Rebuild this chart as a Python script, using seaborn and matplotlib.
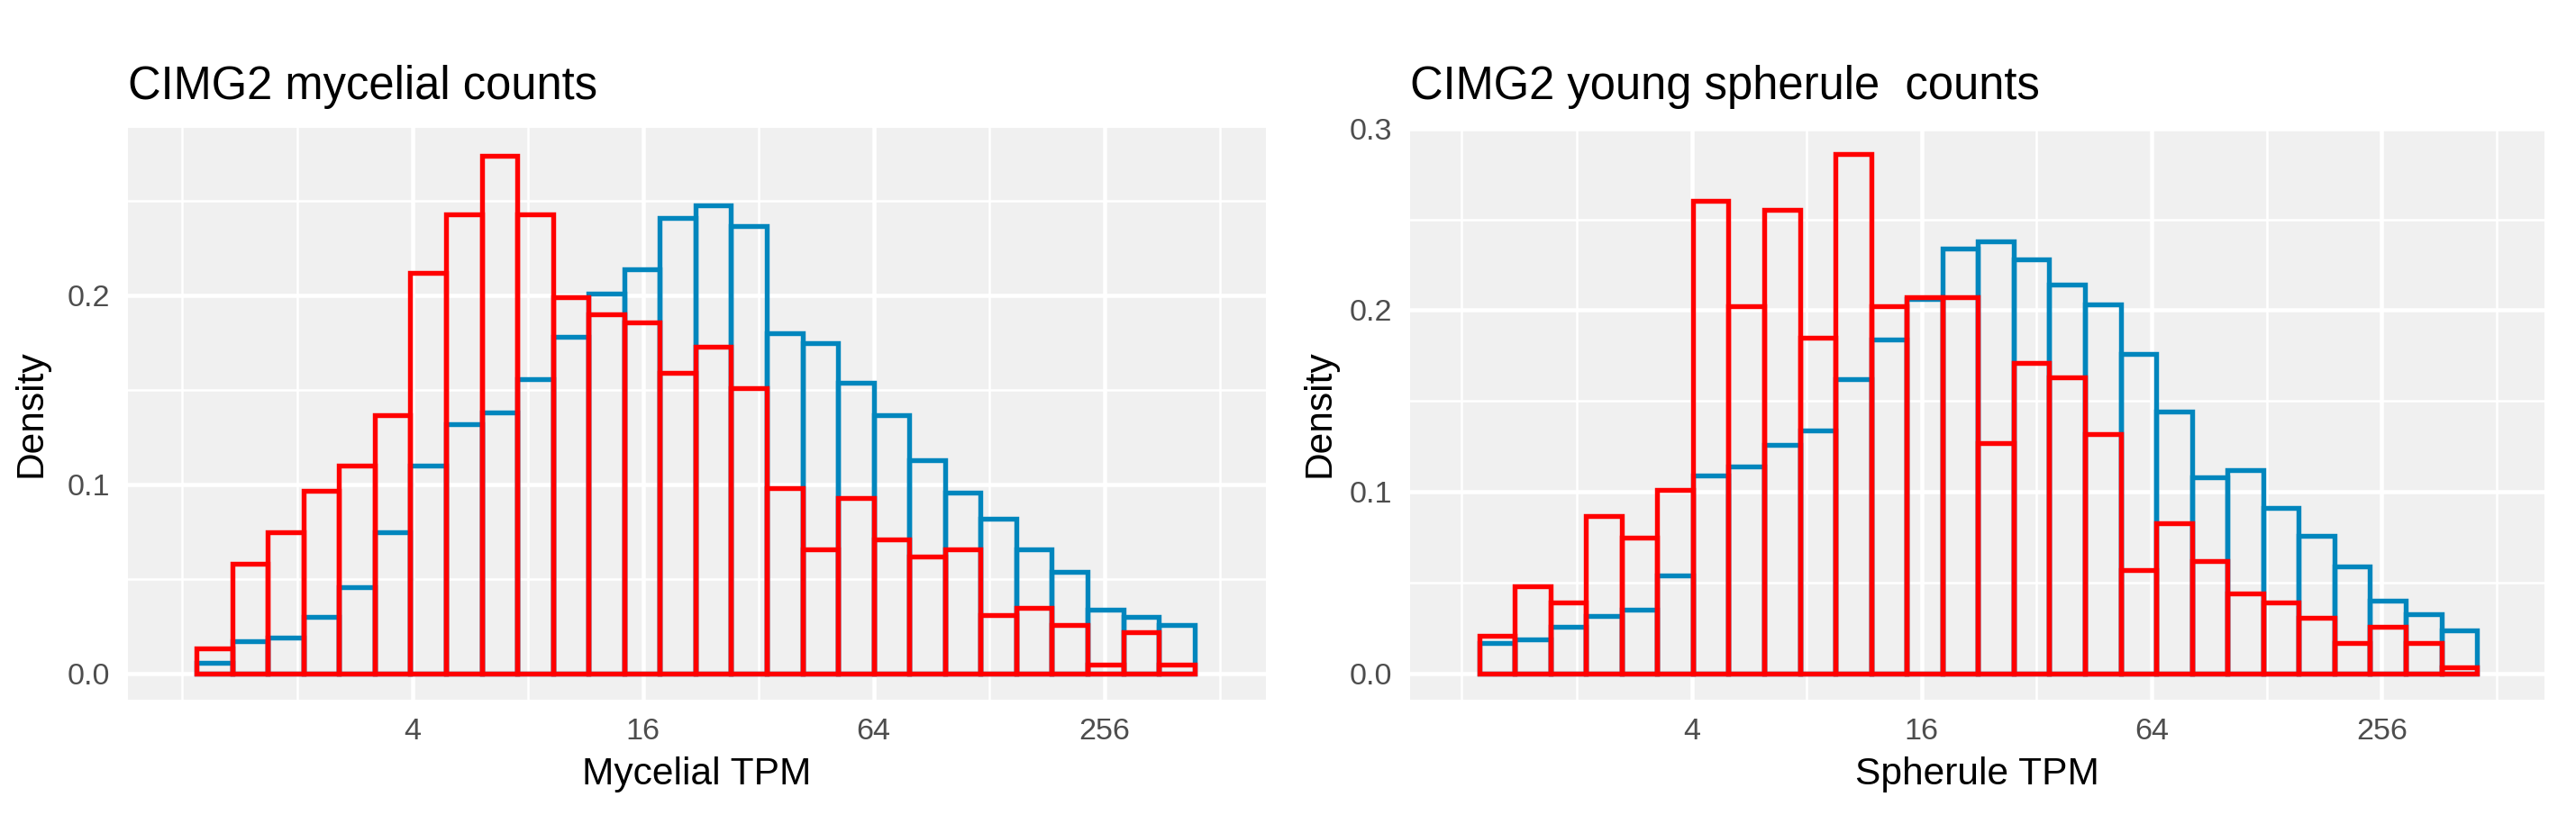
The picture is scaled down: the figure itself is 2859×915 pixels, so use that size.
import numpy as np
import pandas as pd
import matplotlib
matplotlib.use("Agg")
import matplotlib.pyplot as plt
import seaborn as sns

# bin range on the log2(TPM) axis, 28 bins in each panel
n_bins = 28
myc_bin_lo, myc_bin_hi = 0.13, 8.78
sph_bin_lo, sph_bin_hi = 0.15, 8.83

# densities (blue drawn first, red on top)
myc_blue = [0.006, 0.017, 0.019, 0.030, 0.046, 0.075, 0.110, 0.132, 0.138, 0.156,
            0.178, 0.201, 0.214, 0.241, 0.248, 0.237, 0.180, 0.175, 0.154, 0.137,
            0.113, 0.096, 0.082, 0.066, 0.054, 0.034, 0.030, 0.026]
myc_red = [0.0135, 0.058, 0.075, 0.097, 0.110, 0.137, 0.212, 0.243, 0.274, 0.243,
           0.199, 0.190, 0.186, 0.159, 0.173, 0.151, 0.098, 0.066, 0.093, 0.071,
           0.062, 0.066, 0.031, 0.035, 0.026, 0.0046, 0.022, 0.0046]

sph_blue = [0.017, 0.019, 0.026, 0.032, 0.035, 0.054, 0.109, 0.114, 0.126, 0.134,
            0.162, 0.184, 0.206, 0.234, 0.238, 0.228, 0.214, 0.203, 0.176, 0.144,
            0.108, 0.112, 0.091, 0.076, 0.059, 0.040, 0.033, 0.024]
sph_red = [0.021, 0.048, 0.039, 0.087, 0.075, 0.101, 0.260, 0.202, 0.255, 0.185,
           0.286, 0.202, 0.207, 0.207, 0.127, 0.171, 0.163, 0.132, 0.057, 0.083,
           0.062, 0.044, 0.039, 0.031, 0.017, 0.026, 0.017, 0.0033]

titles = ["CIMG2 mycelial counts", "CIMG2 young spherule  counts"]
xlabels = ["Mycelial TPM", "Spherule TPM"]

x_breaks = [2, 4, 6, 8]
x_labels = ["4", "16", "64", "256"]
x_minor = [0, 1, 3, 5, 7, 9]

BLUE = "#0086BD"
RED = "#FF0000"

sns.set_style("darkgrid", {"axes.facecolor": "#F0F0F0", "grid.color": "white"})
plt.rcParams["font.family"] = ["Liberation Sans", "DejaVu Sans"]

fig = plt.figure(figsize=(2859 / 300, 915 / 300), dpi=300)
ax1 = fig.add_axes([142 / 2859, 1 - 777 / 915, 1263 / 2859, 635 / 915])
ax2 = fig.add_axes([1565 / 2859, 1 - 777 / 915, 1259 / 2859, 635 / 915])

panels = [
    (ax1, myc_bin_lo, myc_bin_hi, myc_blue, myc_red, (-0.465, 9.40), (-0.01375, 0.28875),
     [0, 0.1, 0.2], [0.05, 0.15, 0.25], -0.069),
    (ax2, sph_bin_lo, sph_bin_hi, sph_blue, sph_red, (-0.45, 9.417), (-0.0143, 0.3003),
     [0, 0.1, 0.2, 0.3], [0.05, 0.15, 0.25], -0.064),
]

for i, (ax, lo, hi, blue, red, xlim, ylim, yb, ym, ylab_x) in enumerate(panels):
    edges = np.linspace(lo, hi, n_bins + 1)
    centers = (edges[:-1] + edges[1:]) / 2
    df = pd.DataFrame({"x": np.concatenate([centers, centers]),
                       "d": np.concatenate([blue, red]),
                       "grp": ["blue"] * n_bins + ["red"] * n_bins})
    for grp, col in [("blue", BLUE), ("red", RED)]:
        sub = df[df["grp"] == grp]
        sns.histplot(data=sub, x="x", weights="d", bins=edges.tolist(), stat="count",
                     element="bars", fill=False, color=col, linewidth=1.3,
                     ax=ax)
    ax.set_xlim(*xlim)
    ax.set_ylim(*ylim)
    ax.set_xticks(x_breaks)
    ax.set_xticklabels(x_labels)
    ax.set_xticks(x_minor, minor=True)
    ax.set_yticks(yb)
    ax.set_yticklabels([f"{v:.1f}" for v in yb])
    ax.set_yticks(ym, minor=True)
    ax.set_axisbelow(True)
    ax.grid(which="major", color="white", linewidth=1.1)
    ax.grid(which="minor", color="white", linewidth=0.6)
    for s in ax.spines.values():
        s.set_visible(False)
    ax.tick_params(which="major", length=2.4, width=0.8, color="#333333",
                   labelcolor="#4D4D4D", labelsize=8.2, pad=2.4)
    ax.tick_params(which="minor", length=0)
    ax.set_title(titles[i], loc="left", fontsize=12.2, color="black", pad=7.7)
    ax.set_xlabel(xlabels[i], fontsize=10.2, color="black")
    ax.set_ylabel("Density", fontsize=10.2, color="black")
    ax.xaxis.set_label_coords(0.5, -0.10)
    ax.yaxis.set_label_coords(ylab_x, 0.5)

fig.savefig("out.png", dpi=300)
